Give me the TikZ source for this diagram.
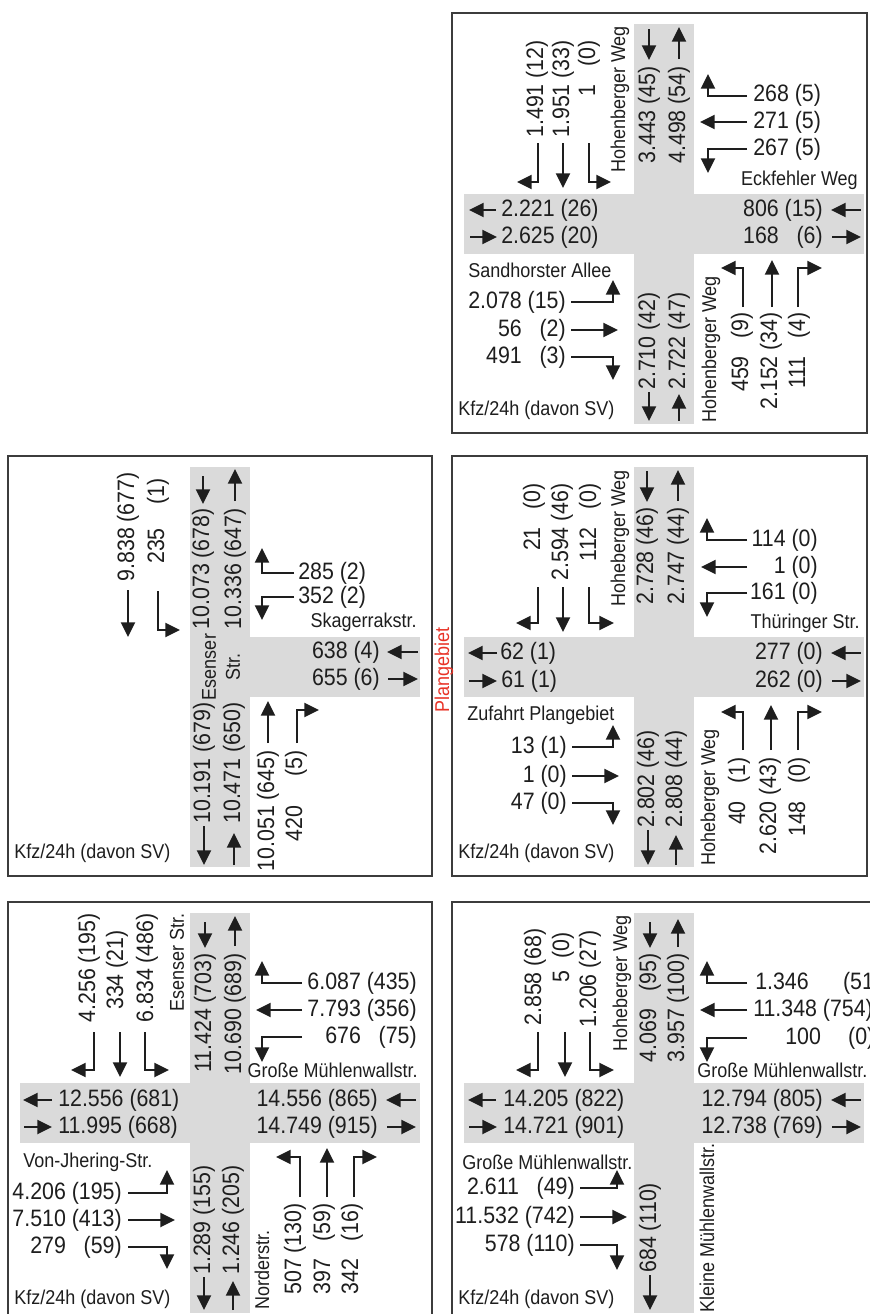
\documentclass[tikz,border=0pt]{standalone}
\usepackage{fontspec}
\usepackage{tikz}
\usetikzlibrary{arrows.meta}
\newfontfamily\roadfont[FakeStretch=0.9]{Liberation Sans}
\newcommand{\numfnt}{\roadfont\fontsize{17.8}{20}\selectfont}
\newcommand{\labfnt}{\roadfont\fontsize{15}{18}\selectfont}
\definecolor{roadcol}{RGB}{218,218,218}
\definecolor{inkcol}{RGB}{30,30,30}
\definecolor{framecol}{RGB}{60,60,60}
\definecolor{planred}{RGB}{232,52,40}
\tikzset{
  num/.style={font=\numfnt,text=inkcol,inner sep=0pt},
  lab/.style={font=\labfnt,text=inkcol,inner sep=0pt},
  rot/.style={rotate=90},
  flow/.style={draw=inkcol,line width=1.7pt,-{Triangle[length=11pt,width=10.5pt]}},
  frame/.style={draw=framecol,fill=white,line width=1.8pt},
  road/.style={fill=roadcol},
}
\begin{document}
\begin{tikzpicture}[x=0.75pt,y=-0.75pt]
  \useasboundingbox (0,0) rectangle (869,1314);
  % Hohenberger Weg / Eckfehler Weg
  \begin{scope}[shift={(452,13)}]
  \draw[frame] (0,0) rectangle (415,420);
  \fill[road] (182,11) rectangle (242,411);
  \fill[road] (12,181) rectangle (412,241);
  \node[num,rot,anchor=east] (tr-s1) at (85,27) {1.491 (12)};
  \node[num,rot,anchor=east] (tr-s2) at (111,27) {1.951 (33)};
  \node[num,rot,anchor=east] (tr-s3) at (137,27) {1 \phantom{0}(0)};
  \draw[flow] (86,130) |- (65,169);
  \draw[flow] (111,130) -- (111,175);
  \draw[flow] (137,130) |- (159,169);
  \node[lab,rot,anchor=west] (tr-nname) at (168,160) {Hohenberger Weg};
  \draw[flow] (197,16) -- (197,47);
  \draw[flow] (227,46) -- (227,14);
  \node[num,rot,anchor=east] (tr-nin) at (197,53) {3.443 (45)};
  \node[num,rot,anchor=east] (tr-nout) at (227,53) {4.498 (54)};
  \node[num,anchor=west] (tr-e1) at (301,82) {268 (5)};
  \node[num,anchor=west] (tr-e2) at (301,109) {271 (5)};
  \node[num,anchor=west] (tr-e3) at (301,136) {267 (5)};
  \draw[flow] (295,83) -| (256,61);
  \draw[flow] (295,109) -- (248,109);
  \draw[flow] (295,136) -| (256,160);
  \node[lab,anchor=east] (tr-ename) at (406,167) {Eckfehler Weg};
  \draw[flow] (44,197) -- (17,197);
  \node[num,anchor=west] (tr-wout) at (49,197) {2.221 (26)};
  \draw[flow] (18,224) -- (45,224);
  \node[num,anchor=west] (tr-win) at (49,224) {2.625 (20)};
  \node[num,anchor=east] (tr-ein) at (371,197) {806 (15)};
  \draw[flow] (409,197) -- (379,197);
  \node[num,anchor=east] (tr-eout) at (371,224) {168 \phantom{1}(6)};
  \draw[flow] (380,224) -- (409,224);
  \node[lab,anchor=west] (tr-wname) at (16,257) {Sandhorster Allee};
  \node[num,anchor=east] (tr-w1) at (114,289) {2.078 (15)};
  \node[num,anchor=east] (tr-w2) at (114,317) {56 \phantom{1}(2)};
  \node[num,anchor=east] (tr-w3) at (114,344) {491 \phantom{1}(3)};
  \draw[flow] (119,289) -| (161,267);
  \draw[flow] (119,317) -- (166,317);
  \draw[flow] (119,344) -| (161,367);
  \node[num,rot,anchor=west] (tr-sout) at (197,377) {2.710 (42)};
  \node[num,rot,anchor=west] (tr-sin) at (227,377) {2.722 (47)};
  \draw[flow] (197,379) -- (197,408);
  \draw[flow] (227,408) -- (227,381);
  \node[lab,rot,anchor=west] (tr-sname) at (259,410) {Hohenberger Weg};
  \node[num,rot,anchor=east] (tr-n1) at (290,299) {459 \phantom{1}(9)};
  \node[num,rot,anchor=east] (tr-n2) at (319,299) {2.152 (34)};
  \node[num,rot,anchor=east] (tr-n3) at (347,299) {111 \phantom{1}(4)};
  \draw[flow] (291,294) |- (269,255);
  \draw[flow] (320,294) -- (320,247);
  \draw[flow] (346,294) |- (370,255);
  \node[lab,anchor=west] (tr-unit) at (6,397) {Kfz/24h (davon SV)};
  \end{scope}
  % Esenser Str. / Skagerrakstr.
  \begin{scope}[shift={(8,456)}]
  \draw[frame] (0,0) rectangle (424,420);
  \fill[road] (182,11) rectangle (242,411);
  \fill[road] (182,181) rectangle (412,241);
  \node[num,rot,anchor=east] (ml-s1) at (120,16) {9.838 (677)};
  \node[num,rot,anchor=east] (ml-s2) at (150,22) {235 \phantom{0.}(1)};
  \draw[flow] (120,134) -- (120,181);
  \draw[flow] (150,135) |- (172,174);
  \draw[flow] (195,20) -- (195,48);
  \draw[flow] (227,45) -- (227,13);
  \node[num,rot,anchor=east] (ml-nin) at (195,52) {10.073 (678)};
  \node[num,rot,anchor=east] (ml-nout) at (227,52) {10.336 (647)};
  \node[num,anchor=west] (ml-e1) at (290,117) {285 (2)};
  \node[num,anchor=west] (ml-e2) at (290,141) {352 (2)};
  \draw[flow] (286,117) -| (254,92);
  \draw[flow] (286,141) -| (254,164);
  \node[lab,anchor=east] (ml-ename) at (409,166) {Skagerrakstr.};
  \node[num,anchor=east] (ml-ein) at (372,196) {638 (4)};
  \draw[flow] (410,196) -- (379,196);
  \node[num,anchor=east] (ml-eout) at (372,223) {655 (6)};
  \draw[flow] (380,223) -- (410,223);
  \node[lab,rot,align=center] (ml-name) at (213,211) {Esenser\\Str.};
  \node[num,rot,anchor=west] (ml-sout) at (196,368) {10.191 (679)};
  \node[num,rot,anchor=west] (ml-sin) at (226,368) {10.471 (650)};
  \draw[flow] (196,370) -- (196,409);
  \draw[flow] (226,409) -- (226,377);
  \node[num,rot,anchor=east] (ml-n1) at (260,294) {10.051 (645)};
  \node[num,rot,anchor=east] (ml-n2) at (288,294) {420 \phantom{00}(5)};
  \draw[flow] (260,287) -- (260,245);
  \draw[flow] (289,287) |- (311,254);
  \node[lab,anchor=west] (ml-unit) at (6,397) {Kfz/24h (davon SV)};
  \end{scope}
  % Hoheberger Weg / Thueringer Str.
  \begin{scope}[shift={(452,456)}]
  \draw[frame] (0,0) rectangle (415,420);
  \fill[road] (182,11) rectangle (242,411);
  \fill[road] (12,181) rectangle (412,241);
  \node[num,rot,anchor=east] (mr-s1) at (82,27) {21 \phantom{0}(0)};
  \node[num,rot,anchor=east] (mr-s2) at (110,27) {2.594 (46)};
  \node[num,rot,anchor=east] (mr-s3) at (138,27) {112 \phantom{0}(0)};
  \draw[flow] (86,131) |- (64,167);
  \draw[flow] (111,131) -- (111,176);
  \draw[flow] (137,131) |- (162,167);
  \node[lab,rot,anchor=west] (mr-nname) at (168,151) {Hoheberger Weg};
  \draw[flow] (195,15) -- (195,46);
  \draw[flow] (226,45) -- (226,14);
  \node[num,rot,anchor=east] (mr-nin) at (195,51) {2.728 (46)};
  \node[num,rot,anchor=east] (mr-nout) at (226,51) {2.747 (44)};
  \node[num,anchor=east] (mr-e1) at (366,84) {114 (0)};
  \node[num,anchor=east] (mr-e2) at (366,111) {1 (0)};
  \node[num,anchor=east] (mr-e3) at (366,137) {161 (0)};
  \draw[flow] (295,84) -| (255,62);
  \draw[flow] (295,111) -- (249,111);
  \draw[flow] (295,137) -| (255,161);
  \node[lab,anchor=east] (mr-ename) at (408,167) {Thüringer Str.};
  \draw[flow] (45,197) -- (16,197);
  \node[num,anchor=west] (mr-wout) at (48,197) {62 (1)};
  \draw[flow] (17,225) -- (45,225);
  \node[num,anchor=west] (mr-win) at (49,225) {61 (1)};
  \node[num,anchor=east] (mr-ein) at (371,197) {277 (0)};
  \draw[flow] (409,197) -- (379,197);
  \node[num,anchor=east] (mr-eout) at (371,225) {262 (0)};
  \draw[flow] (380,225) -- (409,225);
  \node[lab,anchor=west] (mr-wname) at (15,259) {Zufahrt Plangebiet};
  \node[num,anchor=east] (mr-w1) at (115,291) {13 (1)};
  \node[num,anchor=east] (mr-w2) at (115,320) {1 (0)};
  \node[num,anchor=east] (mr-w3) at (115,347) {47 (0)};
  \draw[flow] (120,291) -| (161,269);
  \draw[flow] (120,320) -- (167,320);
  \draw[flow] (120,347) -| (161,369);
  \node[num,rot,anchor=west] (mr-sout) at (196,372) {2.802 (46)};
  \node[num,rot,anchor=west] (mr-sin) at (224,372) {2.808 (44)};
  \draw[flow] (196,374) -- (196,409);
  \draw[flow] (224,409) -- (224,379);
  \node[lab,rot,anchor=west] (mr-sname) at (258,410) {Hoheberger Weg};
  \node[num,rot,anchor=east] (mr-n1) at (287,301) {40 \phantom{0}(1)};
  \node[num,rot,anchor=east] (mr-n2) at (318,301) {2.620 (43)};
  \node[num,rot,anchor=east] (mr-n3) at (347,301) {148 \phantom{0}(0)};
  \draw[flow] (291,294) |- (269,256);
  \draw[flow] (319,294) -- (319,249);
  \draw[flow] (346,294) |- (370,256);
  \node[lab,anchor=west] (mr-unit) at (6,397) {Kfz/24h (davon SV)};
  \end{scope}
  \node[lab,rot,text=planred] (plan) at (444,670) {Plangebiet};
  % Esenser Str. / Grosse Muehlenwallstr.
  \begin{scope}[shift={(8,902)}]
  \draw[frame] (0,0) rectangle (424,420);
  \fill[road] (182,11) rectangle (242,411);
  \fill[road] (12,181) rectangle (412,241);
  \node[num,rot,anchor=east] (bl-s1) at (81,11) {4.256 (195)};
  \node[num,rot,anchor=east] (bl-s2) at (109,28) {334 (21)};
  \node[num,rot,anchor=east] (bl-s3) at (139,11) {6.834 (486)};
  \draw[flow] (86,130) |- (63,168);
  \draw[flow] (112,130) -- (112,175);
  \draw[flow] (137,130) |- (161,168);
  \node[lab,rot,anchor=west] (bl-nname) at (169,110) {Esenser Str.};
  \draw[flow] (197,20) -- (197,46);
  \draw[flow] (227,44) -- (227,14);
  \node[num,rot,anchor=east] (bl-nin) at (197,51) {11.424 (703)};
  \node[num,rot,anchor=east] (bl-nout) at (227,51) {10.690 (689)};
  \node[num,anchor=east] (bl-e1) at (409,81) {6.087 (435)};
  \node[num,anchor=east] (bl-e2) at (409,108) {7.793 (356)};
  \node[num,anchor=east] (bl-e3) at (409,135) {676 \phantom{0}(75)};
  \draw[flow] (294,81) -| (254,59);
  \draw[flow] (294,108) -- (248,108);
  \draw[flow] (294,135) -| (254,160);
  \node[lab,anchor=east] (bl-ename) at (410,168) {Große Mühlenwallstr.};
  \draw[flow] (44,198) -- (15,198);
  \node[num,anchor=west] (bl-wout) at (50,198) {12.556 (681)};
  \draw[flow] (16,225) -- (44,225);
  \node[num,anchor=west] (bl-win) at (50,225) {11.995 (668)};
  \node[num,anchor=east] (bl-ein) at (370,198) {14.556 (865)};
  \draw[flow] (408,198) -- (378,198);
  \node[num,anchor=east] (bl-eout) at (370,225) {14.749 (915)};
  \draw[flow] (379,225) -- (408,225);
  \node[lab,anchor=west] (bl-wname) at (15,260) {Von-Jhering-Str.};
  \node[num,anchor=east] (bl-w1) at (114,291) {4.206 (195)};
  \node[num,anchor=east] (bl-w2) at (114,318) {7.510 (413)};
  \node[num,anchor=east] (bl-w3) at (114,345) {279 \phantom{0}(59)};
  \draw[flow] (120,291) -| (159,268);
  \draw[flow] (120,318) -- (167,318);
  \draw[flow] (120,345) -| (159,367);
  \node[num,rot,anchor=west] (bl-sout) at (196,373) {1.289 (155)};
  \node[num,rot,anchor=west] (bl-sin) at (225,373) {1.246 (205)};
  \draw[flow] (196,375) -- (196,408);
  \draw[flow] (225,408) -- (225,379);
  \node[lab,rot,anchor=west] (bl-sname) at (254,408) {Norderstr.};
  \node[num,rot,anchor=east] (bl-n1) at (287,301) {507 (130)};
  \node[num,rot,anchor=east] (bl-n2) at (316,301) {397 \phantom{0}(59)};
  \node[num,rot,anchor=east] (bl-n3) at (344,301) {342 \phantom{0}(16)};
  \draw[flow] (292,295) |- (268,255);
  \draw[flow] (319,295) -- (319,246);
  \draw[flow] (346,295) |- (369,255);
  \node[lab,anchor=west] (bl-unit) at (6,397) {Kfz/24h (davon SV)};
  \end{scope}
  % Hoheberger Weg / Grosse Muehlenwallstr.
  \begin{scope}[shift={(452,902)}]
  \draw[frame] (0,0) rectangle (424,420);
  \fill[road] (182,11) rectangle (242,411);
  \fill[road] (12,181) rectangle (412,241);
  \node[num,rot,anchor=east] (br-s1) at (83,26) {2.858 (68)};
  \node[num,rot,anchor=east] (br-s2) at (111,30) {5 \phantom{.}(0)};
  \node[num,rot,anchor=east] (br-s3) at (138,28) {1.206 (27)};
  \draw[flow] (86,130) |- (64,168);
  \draw[flow] (113,130) -- (113,175);
  \draw[flow] (138,130) |- (162,168);
  \node[lab,rot,anchor=west] (br-nname) at (170,150) {Hoheberger Weg};
  \draw[flow] (198,20) -- (198,46);
  \draw[flow] (226,45) -- (226,17);
  \node[num,rot,anchor=east] (br-nin) at (198,51) {4.069 \phantom{1}(95)};
  \node[num,rot,anchor=east] (br-nout) at (226,51) {3.957 (100)};
  \node[num,anchor=west] (br-e1) at (303,81) {1.346\hspace{1.45em}(51)};
  \node[num,anchor=west] (br-e2) at (301,108) {11.348 (754)};
  \node[num,anchor=west] (br-e3) at (333,136) {100\hspace{1.15em}(0)};
  \draw[flow] (295,81) -| (255,59);
  \draw[flow] (295,108) -- (248,108);
  \draw[flow] (295,136) -| (255,160);
  \node[lab,anchor=west] (br-ename) at (245,168) {Große Mühlenwallstr.};
  \draw[flow] (44,198) -- (16,198);
  \node[num,anchor=west] (br-wout) at (51,198) {14.205 (822)};
  \draw[flow] (17,225) -- (45,225);
  \node[num,anchor=west] (br-win) at (51,225) {14.721 (901)};
  \node[num,anchor=east] (br-ein) at (371,198) {12.794 (805)};
  \draw[flow] (409,198) -- (379,198);
  \node[num,anchor=east] (br-eout) at (371,225) {12.738 (769)};
  \draw[flow] (380,225) -- (409,225);
  \node[lab,anchor=west] (br-wname) at (10,260) {Große Mühlenwallstr.};
  \node[num,anchor=east] (br-w1) at (123,286) {2.611 \phantom{0}(49)};
  \node[num,anchor=east] (br-w2) at (123,315) {11.532 (742)};
  \node[num,anchor=east] (br-w3) at (123,343) {578 (110)};
  \draw[flow] (128,286) -| (165,268);
  \draw[flow] (128,315) -- (175,315);
  \draw[flow] (128,343) -| (165,368);
  \node[num,rot,anchor=west] (br-sout) at (198,371) {684 (110)};
  \draw[flow] (198,373) -- (198,408);
  \node[lab,rot,anchor=west] (br-sname) at (255,411) {Kleine Mühlenwallstr.};
  \node[lab,anchor=west] (br-unit) at (6,397) {Kfz/24h (davon SV)};
  \end{scope}
\end{tikzpicture}
\end{document}
